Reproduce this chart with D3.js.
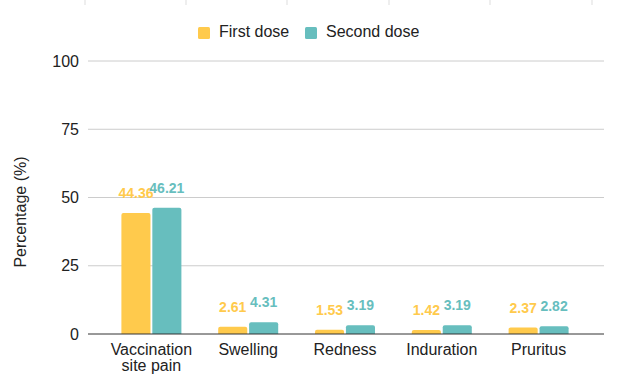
<!DOCTYPE html>
<html>
<head>
<meta charset="utf-8">
<script src="https://cdn.jsdelivr.net/npm/d3@7"></script>
<style>
  body { margin: 0; background: #fff; }
  text { font-family: "Liberation Sans", Arial, sans-serif; }
</style>
</head>
<body>
<div id="chart"></div>
<script>
const categories = ["Vaccination site pain", "Swelling", "Redness", "Induration", "Pruritus"];
const firstDose = [44.36, 2.61, 1.53, 1.42, 2.37];
const secondDose = [46.21, 4.31, 3.19, 3.19, 2.82];
const seriesNames = ["First dose", "Second dose"];
const seriesColors = ["#ffca4c", "#67bebe"];
const yTicks = [0, 25, 50, 75, 100];

const width = 620;
const height = 387;

const svg = d3.select("#chart")
  .append("svg")
    .attr("width", width)
    .attr("height", height);

// faint tick marks left over at the very top
svg.selectAll("line.top")
  .data([85, 186, 287, 389, 490, 592])
  .join("line")
    .attr("class", "top")
    .attr("x1", d => d).attr("x2", d => d)
    .attr("y1", 0).attr("y2", 5)
    .attr("stroke", "#ddd");

const x = d3.scaleBand()
  .domain(categories)
  .range([103, 587]);

const xInner = d3.scaleBand()
  .domain(seriesNames)
  .range([0, 60])
  .paddingInner(0.06);

const y = d3.scaleLinear()
  .domain([0, 100])
  .range([334, 61]);

// grid
svg.selectAll("line.grid")
  .data(yTicks.filter(d => d > 0))
  .join("line")
    .attr("class", "grid")
    .attr("x1", 88).attr("x2", 604)
    .attr("y1", d => y(d)).attr("y2", d => y(d))
    .attr("stroke", "#cccccc");

// y tick labels
svg.selectAll("text.ytick")
  .data(yTicks)
  .join("text")
    .attr("class", "ytick")
    .attr("x", 79)
    .attr("y", d => y(d))
    .attr("text-anchor", "end")
    .attr("dominant-baseline", "central")
    .attr("font-size", 16)
    .attr("fill", "#222")
    .text(d => d);

svg.append("text")
  .attr("transform", "translate(20,212) rotate(-90)")
  .attr("text-anchor", "middle")
  .attr("dominant-baseline", "central")
  .attr("font-size", 16)
  .attr("fill", "#222")
  .text("Percentage (%)");

const rows = categories.map((c, i) => ({
  category: c,
  values: [firstDose[i], secondDose[i]]
}));

const groups = svg.selectAll("g.cat")
  .data(rows)
  .join("g")
    .attr("class", "cat")
    .attr("transform", d => `translate(${x(d.category) + x.bandwidth() / 2 - 30},0)`);

function barPath(x0, w, top, bottom) {
  const r = Math.min(2, bottom - top);
  return `M${x0},${bottom}V${top + r}Q${x0},${top} ${x0 + r},${top}H${x0 + w - r}Q${x0 + w},${top} ${x0 + w},${top + r}V${bottom}Z`;
}

groups.selectAll("path")
  .data(d => d.values.map((v, j) => ({ v, s: seriesNames[j], j })))
  .join("path")
    .attr("d", d => barPath(xInner(d.s), xInner.bandwidth(), y(d.v), y(0)))
    .attr("fill", d => seriesColors[d.j]);

groups.selectAll("text.val")
  .data(d => d.values.map((v, j) => ({ v, s: seriesNames[j], j })))
  .join("text")
    .attr("class", "val")
    .attr("x", d => xInner(d.s) + xInner.bandwidth() / 2)
    .attr("y", d => y(d.v) - 20)
    .attr("text-anchor", "middle")
    .attr("dominant-baseline", "central")
    .attr("font-family", "Roboto, sans-serif")
    .attr("font-weight", "bold")
    .attr("font-size", 14)
    .attr("fill", d => seriesColors[d.j])
    .text(d => d.v.toFixed(2));

// baseline
svg.append("line")
  .attr("x1", 88).attr("x2", 604)
  .attr("y1", y(0)).attr("y2", y(0))
  .attr("stroke", "#333");

// x labels, wrapped
const xLabelLines = { "Vaccination site pain": ["Vaccination", "site pain"] };
svg.selectAll("text.xlab")
  .data(categories)
  .join("text")
    .attr("class", "xlab")
    .attr("text-anchor", "middle")
    .attr("font-size", 16)
    .attr("fill", "#222")
    .each(function(d) {
      const lines = xLabelLines[d] || [d];
      d3.select(this).selectAll("tspan")
        .data(lines)
        .join("tspan")
          .attr("x", x(d) + x.bandwidth() / 2)
          .attr("y", (l, k) => 355 + k * 16)
          .text(l => l);
    });

// legend
const legendX = [198, 305];
const legend = svg.selectAll("g.legend")
  .data(seriesNames)
  .join("g")
    .attr("class", "legend")
    .attr("transform", (d, i) => `translate(${legendX[i]},27)`);

legend.append("rect")
  .attr("width", 12).attr("height", 12)
  .attr("rx", 1.5)
  .attr("fill", (d, i) => seriesColors[i]);

legend.append("text")
  .attr("x", 21)
  .attr("y", 10)
  .attr("font-size", 16)
  .attr("fill", "#222")
  .text(d => d);
</script>
</body>
</html>
